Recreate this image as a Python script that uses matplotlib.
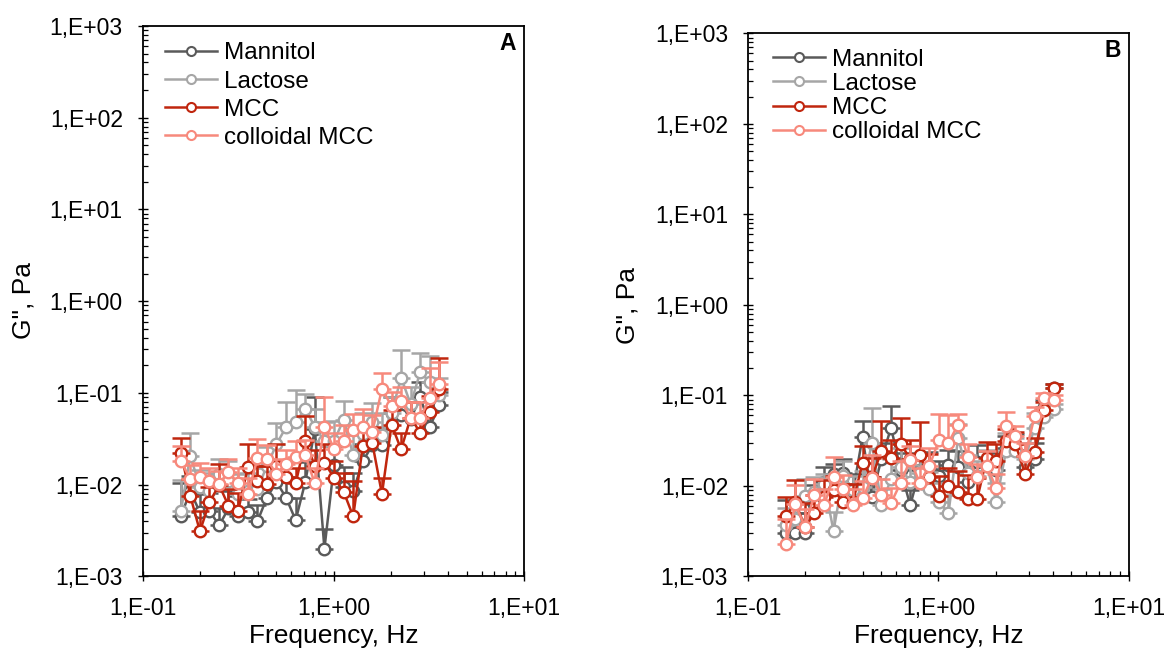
import matplotlib
matplotlib.use("Agg")
import matplotlib.pyplot as plt
from matplotlib.ticker import FuncFormatter, FixedLocator, NullFormatter
from matplotlib.lines import Line2D

plt.rcParams['font.family'] = ['Liberation Sans', 'DejaVu Sans']

# ---------------- data ----------------
freq = [0.158, 0.177, 0.199, 0.223, 0.251, 0.281, 0.316, 0.355, 0.399, 0.447,
        0.502, 0.564, 0.633, 0.711, 0.798, 0.896, 1.007, 1.130, 1.269, 1.425,
        1.600, 1.796, 2.017, 2.264, 2.543, 2.855, 3.205, 3.599, 4.041]

series_names = ["Mannitol", "Lactose", "MCC", "colloidal MCC"]

x_decades = [0.1, 1, 10]
y_decades = [1e-3, 1e-2, 1e-1, 1e0, 1e1, 1e2, 1e3]

# Panel A (28 frequencies)
mannitol_A = [0.0045, 0.0085, 0.0050, 0.0052, 0.0036, 0.0055, 0.0045, 0.0050, 0.0040, 0.0072,
              0.0107, 0.0072, 0.0041, 0.0107, 0.0400, 0.0020, 0.0165, 0.0095, 0.0085, 0.0180,
              0.0270, 0.0270, 0.0600, 0.0580, 0.0520, 0.0900, 0.0430, 0.0730]
mannitol_A_err = [0.006, 0.004, 0.003, 0.003, 0.002, 0.003, 0.003, 0.002, 0.002, 0.004,
                  0.006, 0.005, 0.003, 0.007, 0.050, 0.0013, 0.010, 0.006, 0.005, 0.010,
                  0.012, 0.014, 0.030, 0.025, 0.025, 0.040, 0.020, 0.030]
lactose_A = [0.0051, 0.0206, 0.0095, 0.0085, 0.0130, 0.0110, 0.0080, 0.0085, 0.0090, 0.0160,
             0.0275, 0.0426, 0.0483, 0.0671, 0.0426, 0.0300, 0.0300, 0.0510, 0.0210, 0.0360,
             0.0480, 0.0350, 0.0600, 0.1470, 0.0750, 0.1700, 0.1300, 0.0940]
lactose_A_err = [0.006, 0.016, 0.005, 0.005, 0.006, 0.007, 0.005, 0.005, 0.006, 0.010,
                 0.020, 0.036, 0.060, 0.030, 0.025, 0.018, 0.020, 0.030, 0.014, 0.025,
                 0.030, 0.025, 0.030, 0.150, 0.040, 0.100, 0.120, 0.050]
mcc_A = [0.0224, 0.0076, 0.0031, 0.0064, 0.0099, 0.0059, 0.0052, 0.0154, 0.0110, 0.0101,
         0.0160, 0.0120, 0.0103, 0.0300, 0.0160, 0.0174, 0.0119, 0.0084, 0.0045, 0.0265,
         0.0281, 0.0079, 0.0452, 0.0242, 0.0539, 0.0366, 0.0621, 0.1100]
mcc_A_err = [0.010, 0.004, 0.002, 0.003, 0.007, 0.003, 0.003, 0.012, 0.005, 0.006,
             0.012, 0.006, 0.005, 0.026, 0.008, 0.010, 0.006, 0.005, 0.0065, 0.012,
             0.014, 0.004, 0.020, 0.012, 0.025, 0.018, 0.030, 0.130]
colloidal_A = [0.0182, 0.0114, 0.0122, 0.0110, 0.0101, 0.0138, 0.0103, 0.0079, 0.0193, 0.0190,
               0.0130, 0.0166, 0.0198, 0.0209, 0.0103, 0.0426, 0.0244, 0.0300, 0.0392, 0.0426,
               0.0376, 0.1110, 0.0716, 0.0811, 0.0539, 0.0539, 0.0883, 0.1260]
colloidal_A_err = [0.008, 0.005, 0.005, 0.004, 0.004, 0.005, 0.005, 0.004, 0.012, 0.008,
                   0.006, 0.007, 0.010, 0.010, 0.005, 0.047, 0.012, 0.015, 0.020, 0.025,
                   0.020, 0.055, 0.030, 0.035, 0.025, 0.025, 0.100, 0.090]

# Panel B (29 frequencies)
mannitol_B = [0.0030, 0.0030, 0.0030, 0.0063, 0.0110, 0.0136, 0.0138, 0.0085, 0.0345, 0.0076,
              0.0200, 0.0438, 0.0150, 0.0061, 0.0150, 0.0155, 0.0130, 0.0171, 0.0160, 0.0110,
              0.0183, 0.0165, 0.0150, 0.0260, 0.0250, 0.0161, 0.0200, 0.0750, 0.1200]
mannitol_B_err = [0.004, 0.002, 0.002, 0.004, 0.005, 0.004, 0.006, 0.005, 0.018, 0.005,
                  0.010, 0.033, 0.008, 0.003, 0.008, 0.008, 0.006, 0.008, 0.008, 0.006,
                  0.010, 0.008, 0.008, 0.010, 0.012, 0.008, 0.010, 0.015, 0.015]
lactose_B = [0.0037, 0.0043, 0.0078, 0.0085, 0.0105, 0.0032, 0.0130, 0.0090, 0.0097, 0.0297,
             0.0062, 0.0120, 0.0162, 0.0110, 0.0140, 0.0092, 0.0067, 0.0050, 0.0336, 0.0140,
             0.0130, 0.0170, 0.0067, 0.0240, 0.0240, 0.0200, 0.0440, 0.0580, 0.0710]
lactose_B_err = [0.002, 0.002, 0.004, 0.004, 0.003, 0.002, 0.006, 0.004, 0.005, 0.043,
                 0.003, 0.008, 0.010, 0.006, 0.008, 0.005, 0.004, 0.003, 0.015, 0.008,
                 0.006, 0.008, 0.004, 0.014, 0.010, 0.010, 0.020, 0.012, 0.010]
mcc_B = [0.0046, 0.0066, 0.0035, 0.0050, 0.0075, 0.0090, 0.0066, 0.0066, 0.0178, 0.0125,
         0.0241, 0.0202, 0.0291, 0.0200, 0.0222, 0.0125, 0.0078, 0.0099, 0.0085, 0.0072,
         0.0072, 0.0204, 0.0190, 0.0310, 0.0290, 0.0136, 0.0236, 0.0690, 0.1210]
mcc_B_err = [0.003, 0.005, 0.003, 0.003, 0.004, 0.004, 0.004, 0.004, 0.010, 0.008,
             0.028, 0.012, 0.027, 0.012, 0.028, 0.010, 0.005, 0.006, 0.006, 0.006,
             0.005, 0.010, 0.010, 0.012, 0.010, 0.008, 0.010, 0.015, 0.012]
colloidal_B = [0.0023, 0.0063, 0.0035, 0.0080, 0.0062, 0.0126, 0.0092, 0.0062, 0.0073, 0.0122,
               0.0080, 0.0065, 0.0108, 0.0193, 0.0108, 0.0165, 0.0322, 0.0300, 0.0476, 0.0210,
               0.0124, 0.0165, 0.0094, 0.0460, 0.0358, 0.0215, 0.0590, 0.0930, 0.0900]
colloidal_B_err = [0.002, 0.004, 0.002, 0.004, 0.003, 0.008, 0.004, 0.003, 0.004, 0.010,
                   0.004, 0.003, 0.008, 0.008, 0.005, 0.010, 0.030, 0.030, 0.014, 0.008,
                   0.005, 0.008, 0.004, 0.020, 0.010, 0.008, 0.015, 0.012, 0.010]

colors = ["#5a5a5a", "#a6a6a6", "#c0260e", "#f7897c"]

panels = [
    dict(rect=[143 / 1164, 1 - 576.4 / 655, 381 / 1164, 550.5 / 655], tag="A",
         ys=[mannitol_A, lactose_A, mcc_A, colloidal_A],
         es=[mannitol_A_err, lactose_A_err, mcc_A_err, colloidal_A_err],
         legend_anchor=(0.058, 0.970), spacing=0.25,
         xlabel_pos=(333.5 / 1164, 1 - 636 / 655), ylabel_pos=(23 / 1164, 1 - 301 / 655)),
    dict(rect=[748.2 / 1164, 1 - 576.4 / 655, 380.4 / 1164, 543 / 655], tag="B",
         ys=[mannitol_B, lactose_B, mcc_B, colloidal_B],
         es=[mannitol_B_err, lactose_B_err, mcc_B_err, colloidal_B_err],
         legend_anchor=(0.064, 0.972), spacing=0.09,
         xlabel_pos=(938.8 / 1164, 1 - 636 / 655), ylabel_pos=(627 / 1164, 1 - 305 / 655)),
]

fig = plt.figure(figsize=(11.64, 6.55), dpi=100)


def fmt(v, pos):
    import math
    e = int(round(math.log10(v)))
    return f"1,E{e:+03d}"


def minors(decades):
    return [d * m for d in decades[:-1] for m in range(2, 10)]


for p in panels:
    ax = fig.add_axes(p["rect"])
    for name, y, e, c in zip(series_names, p["ys"], p["es"], colors):
        x = freq[:len(y)]
        ax.errorbar(x, y, yerr=[[0] * len(e), e], fmt='none', ecolor=c,
                    elinewidth=1.8, capsize=6.5, capthick=1.8)
        ax.plot(x, y, '-o', color=c, lw=1.8, ms=8.3, mfc='white', mec=c, mew=1.7)
    ax.set_xscale('log')
    ax.set_yscale('log')
    ax.set_xlim(x_decades[0], x_decades[-1])
    ax.set_ylim(y_decades[0], y_decades[-1])
    ax.xaxis.set_major_locator(FixedLocator(x_decades))
    ax.yaxis.set_major_locator(FixedLocator(y_decades))
    ax.xaxis.set_minor_locator(FixedLocator(minors(x_decades)))
    ax.yaxis.set_minor_locator(FixedLocator(minors(y_decades)))
    ax.xaxis.set_major_formatter(FuncFormatter(fmt))
    ax.yaxis.set_major_formatter(FuncFormatter(fmt))
    ax.xaxis.set_minor_formatter(NullFormatter())
    ax.yaxis.set_minor_formatter(NullFormatter())
    ax.tick_params(which='major', direction='inout', length=7, width=1.0,
                   labelsize=16.5, colors='black')
    ax.tick_params(axis='x', which='major', pad=11)
    ax.tick_params(axis='y', which='major', pad=11)
    ax.tick_params(which='minor', direction='in', length=3.5, width=0.9)
    for s in ax.spines.values():
        s.set_linewidth(1.3)
        s.set_color('black')

    handles = [Line2D([], [], color=c, lw=1.8, marker='o', ms=6.5, mfc='white', mec=c, mew=1.5)
               for c in colors]
    ax.legend(handles, series_names, loc='upper left', bbox_to_anchor=p["legend_anchor"],
              frameon=False, fontsize=17.5, handlelength=2.15, handletextpad=0.28,
              borderpad=0, borderaxespad=0, labelspacing=p["spacing"])
    ax.text(0.958, 0.968, p["tag"], transform=ax.transAxes, ha='center', va='center',
            fontsize=16.5, fontweight='bold')
    fig.text(*p["xlabel_pos"], "Frequency, Hz", ha='center', va='center', fontsize=19)
    fig.text(*p["ylabel_pos"], 'G", Pa', ha='center', va='center', fontsize=19, rotation=90)

fig.savefig("out.png", dpi=100)
